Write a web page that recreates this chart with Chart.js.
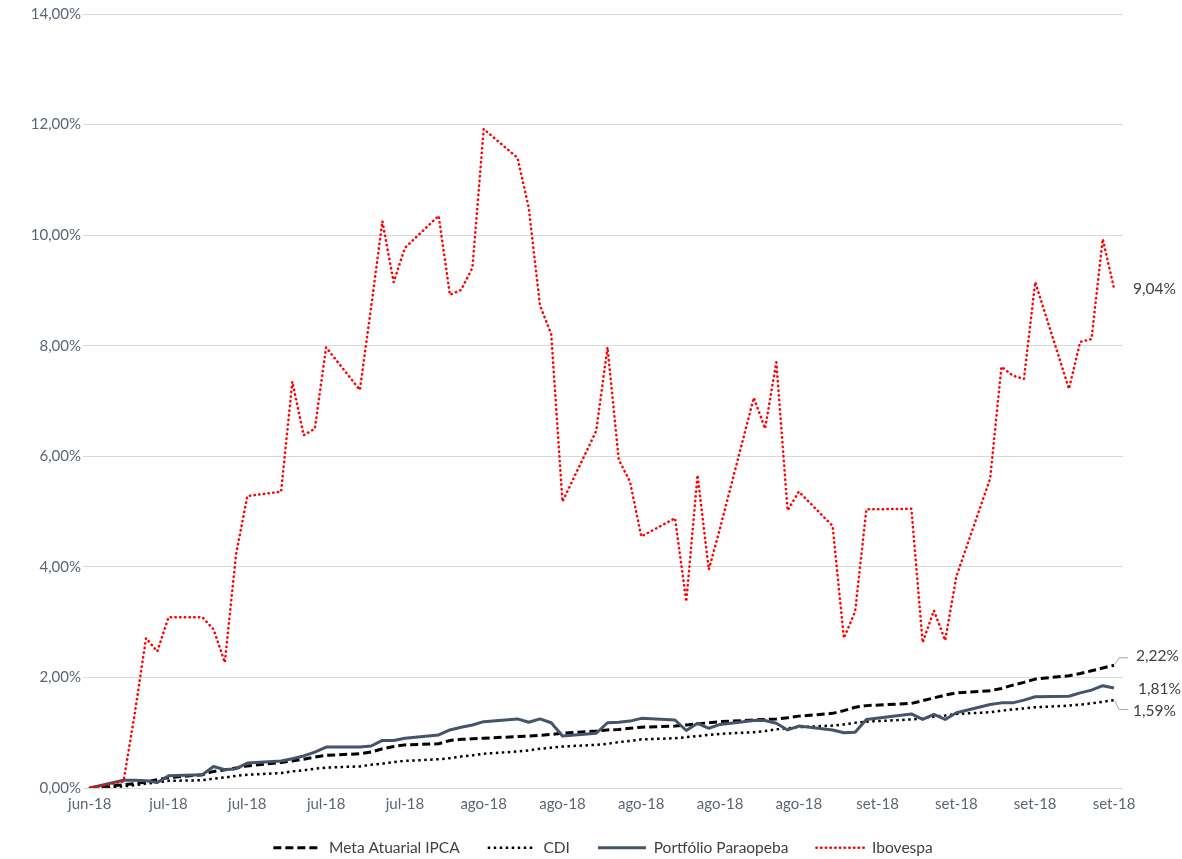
<!DOCTYPE html>
<html><head><meta charset="utf-8">
<script src="https://cdn.jsdelivr.net/npm/chart.js@4.4.1/dist/chart.umd.min.js"></script>
<style>html,body{margin:0;padding:0;background:#fff}#wrap{width:1182px;height:859px;position:relative}</style>
</head><body><div id="wrap"><canvas id="c"></canvas></div>
<script>
const dates = [
'2018-06-29',
'2018-07-02','2018-07-03','2018-07-04','2018-07-05','2018-07-06',
'2018-07-09','2018-07-10','2018-07-11','2018-07-12','2018-07-13',
'2018-07-16','2018-07-17','2018-07-18','2018-07-19','2018-07-20',
'2018-07-23','2018-07-24','2018-07-25','2018-07-26','2018-07-27',
'2018-07-30','2018-07-31','2018-08-01','2018-08-02','2018-08-03',
'2018-08-06','2018-08-07','2018-08-08','2018-08-09','2018-08-10',
'2018-08-13','2018-08-14','2018-08-15','2018-08-16','2018-08-17',
'2018-08-20','2018-08-21','2018-08-22','2018-08-23','2018-08-24',
'2018-08-27','2018-08-28','2018-08-29','2018-08-30','2018-08-31',
'2018-09-03','2018-09-04','2018-09-05','2018-09-06',
'2018-09-10','2018-09-11','2018-09-12','2018-09-13','2018-09-14',
'2018-09-17','2018-09-18','2018-09-19','2018-09-20','2018-09-21',
'2018-09-24','2018-09-25','2018-09-26','2018-09-27','2018-09-28'];

const metaIPCA = [0,
0.06,0.08,0.11,0.15,0.19,
0.24,0.30,0.33,0.36,0.40,
0.46,0.49,0.52,0.56,0.59,
0.62,0.65,0.71,0.75,0.78,
0.80,0.86,0.88,0.89,0.90,
0.93,0.94,0.95,0.97,0.99,
1.03,1.05,1.06,1.08,1.10,
1.12,1.14,1.16,1.18,1.20,
1.23,1.24,1.25,1.27,1.30,
1.35,1.40,1.46,1.49,
1.53,1.58,1.63,1.68,1.72,
1.76,1.80,1.86,1.91,1.97,
2.03,2.07,2.12,2.17,2.22];

const cdi = [0,
0.03,0.05,0.08,0.10,0.13,
0.14,0.17,0.19,0.22,0.24,
0.27,0.30,0.32,0.35,0.37,
0.39,0.42,0.44,0.47,0.49,
0.52,0.54,0.57,0.59,0.62,
0.66,0.68,0.71,0.73,0.75,
0.78,0.80,0.83,0.85,0.88,
0.90,0.92,0.94,0.96,0.98,
1.01,1.03,1.06,1.08,1.10,
1.13,1.15,1.18,1.20,
1.24,1.26,1.29,1.31,1.34,
1.37,1.40,1.42,1.44,1.46,
1.49,1.51,1.53,1.56,1.59];

const portfolio = [0,
0.14,0.14,0.13,0.10,0.22,
0.24,0.39,0.33,0.35,0.45,
0.49,0.53,0.58,0.65,0.74,
0.74,0.76,0.86,0.86,0.90,
0.96,1.05,1.10,1.14,1.20,
1.25,1.19,1.25,1.18,0.94,
0.99,1.18,1.19,1.21,1.26,
1.23,1.04,1.17,1.08,1.15,
1.22,1.22,1.17,1.05,1.12,
1.05,1.00,1.01,1.24,
1.34,1.24,1.33,1.24,1.36,
1.51,1.54,1.54,1.59,1.65,
1.66,1.72,1.77,1.85,1.81];

const ibovespa = [0,
0.12,1.35,2.71,2.47,3.09,
3.09,2.87,2.27,4.23,5.28,
5.36,7.35,6.38,6.50,7.97,
7.20,8.70,10.25,9.15,9.77,
10.35,8.92,9.01,9.41,11.92,
11.40,10.50,8.73,8.21,5.18,
6.46,7.97,5.94,5.54,4.55,
4.88,3.37,5.66,3.95,4.70,
7.06,6.50,7.70,5.02,5.36,
4.74,2.71,3.19,5.04,
5.05,2.63,3.21,2.67,3.83,
5.60,7.62,7.46,7.40,9.15,
7.22,8.07,8.12,9.93,9.04];

const tickDates = ['2018-06-29','2018-07-06','2018-07-13','2018-07-20','2018-07-27','2018-08-03','2018-08-10',
'2018-08-17','2018-08-24','2018-08-31','2018-09-07','2018-09-14','2018-09-21','2018-09-28'];
const monthNames = ['jan','fev','mar','abr','mai','jun','jul','ago','set','out','nov','dez'];
const seriesNames = ['Meta Atuarial IPCA','CDI','Portfólio Paraopeba','Ibovespa'];
const yTicks = [0,2,4,6,8,10,12,14];

const t0 = Date.parse(dates[0] + 'T00:00:00Z');
const dayOf = s => Math.round((Date.parse(s + 'T00:00:00Z') - t0) / 86400000);
const tickLabel = s => monthNames[parseInt(s.slice(5,7),10)-1] + '-' + s.slice(2,4);
const pct = v => v.toFixed(2).replace('.', ',') + '%';
const pts = arr => dates.map((d,i) => ({x: dayOf(d), y: arr[i]}));
const tickMap = {};
tickDates.forEach(d => { tickMap[dayOf(d)] = tickLabel(d); });

const FONT = 'Lato, "Open Sans", sans-serif';

const endLabels = {
  id: 'endLabels',
  afterDatasetsDraw(chart) {
    const ctx = chart.ctx;
    const specs = [
      {ds: 3, dx: 19, dy: 1, leader: false},
      {ds: 0, dx: 22, dy: -9, leader: true},
      {ds: 2, dx: 24, dy: 1, leader: false},
      {ds: 1, dx: 19, dy: 11, leader: true}
    ];
    ctx.save();
    ctx.font = '15.5px ' + FONT;
    ctx.fillStyle = '#404040';
    ctx.textBaseline = 'middle';
    ctx.textAlign = 'left';
    specs.forEach(s => {
      const meta = chart.getDatasetMeta(s.ds);
      const el = meta.data[meta.data.length - 1];
      const data = chart.data.datasets[s.ds].data;
      const v = data[data.length - 1].y;
      const ly = el.y + s.dy;
      if (s.leader) {
        ctx.strokeStyle = '#a6a6a6';
        ctx.lineWidth = 1;
        ctx.setLineDash([]);
        const sgn = s.dy < 0 ? -1 : 1;
        ctx.beginPath();
        ctx.moveTo(el.x + 1, el.y + sgn * 1);
        ctx.lineTo(el.x + 5, ly - sgn * 1.5);
        ctx.lineTo(el.x + 14, ly - sgn * 1.5);
        ctx.stroke();
      }
      ctx.fillText(pct(v), el.x + s.dx, ly);
    });
    ctx.restore();
  }
};

new Chart(document.getElementById('c'), {
  type: 'line',
  data: {
    datasets: [
      {label: seriesNames[0], data: pts(metaIPCA), borderColor: '#000000', borderWidth: 3, borderDash: [8,4], order: 4},
      {label: seriesNames[1], data: pts(cdi), borderColor: '#000000', borderWidth: 2.5, borderDash: [2.5,3.5], order: 3},
      {label: seriesNames[2], data: pts(portfolio), borderColor: '#44546A', borderWidth: 3, order: 2},
      {label: seriesNames[3], data: pts(ibovespa), borderColor: '#FF0000', borderWidth: 2.5, borderDash: [0.4,4.3], borderCapStyle: 'round', order: 1}
    ].map(d => Object.assign({fill: false, tension: 0, pointRadius: 0, pointHoverRadius: 0, pointStyle: 'line', borderJoinStyle: 'round', backgroundColor: d.borderColor}, d))
  },
  options: {
    responsive: true,
    maintainAspectRatio: false,
    animation: false,
    layout: {padding: {top: 14, right: 59, left: 0, bottom: 0}},
    scales: {
      x: {
        type: 'linear',
        min: -0.6, max: 91.8,
        grid: {display: false, drawTicks: false},
        border: {display: false},
        afterBuildTicks: sc => { sc.ticks = tickDates.map(d => ({value: dayOf(d)})); },
        afterFit: sc => { sc.height = 24; },
        ticks: {
          autoSkip: false, maxRotation: 0, padding: 7,
          color: '#5b6574', font: {family: FONT, size: 15},
          callback: v => tickMap[v] || ''
        }
      },
      y: {
        min: 0, max: 14,
        afterBuildTicks: sc => { sc.ticks = yTicks.map(v => ({value: v})); },
        afterFit: sc => { sc.width = 83; },
        grid: {color: '#d9d9d9', lineWidth: 1, drawTicks: false},
        border: {display: false},
        ticks: {padding: 2, color: '#5b6574', font: {family: FONT, size: 15}, callback: v => pct(v)}
      }
    },
    plugins: {
      tooltip: {enabled: false},
      legend: {
        position: 'bottom',
        fullSize: false,
        maxHeight: 47,
        labels: {
          usePointStyle: true,
          pointStyleWidth: 48,
          padding: 28,
          color: '#404040',
          font: {family: FONT, size: 15.5},
          sort: (a, b) => a.datasetIndex - b.datasetIndex,
          generateLabels: chart => {
            const items = Chart.defaults.plugins.legend.labels.generateLabels(chart);
            items.forEach(it => {
              const ds = chart.data.datasets[it.datasetIndex];
              it.lineDash = ds.borderDash || [];
              it.lineWidth = ds.borderWidth;
              it.strokeStyle = ds.borderColor;
              it.pointStyle = 'line';
              it.lineCap = ds.borderCapStyle || 'butt';
            });
            return items;
          }
        }
      }
    }
  },
  plugins: [endLabels]
});
</script></body></html>
